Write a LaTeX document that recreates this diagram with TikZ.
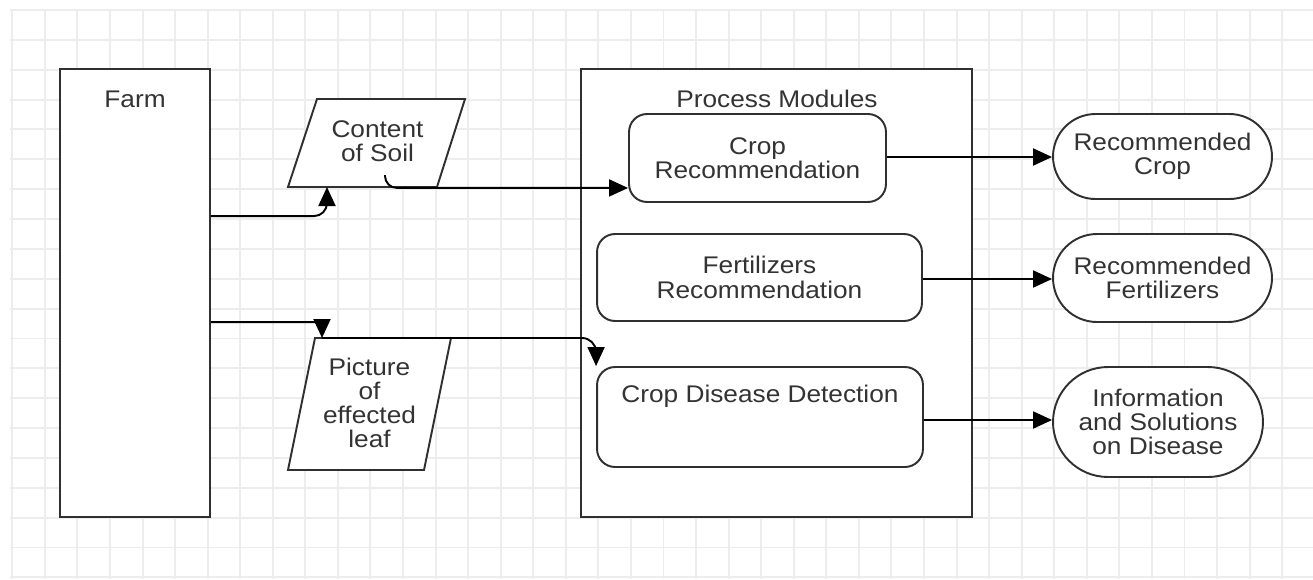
\documentclass[tikz,border=0pt]{standalone}
\usepackage{fontspec}
\setmainfont{Liberation Sans}[FakeStretch=1.09]
\usetikzlibrary{arrows.meta,calc}
\definecolor{gridc}{HTML}{EDEDED}
\definecolor{linec}{HTML}{303030}
\definecolor{textc}{HTML}{333333}
\newcommand{\dfont}{\fontsize{13.7pt}{13.8pt}\selectfont}
\begin{document}
\begin{tikzpicture}[x=0.02cm,y=-0.02cm,
  gridline/.style={draw=gridc, line width=1.1pt},
  box/.style={draw=linec, line width=1.1pt, fill=white, inner sep=0pt},
  lbl/.style={text=textc, align=center, inner sep=0pt, font=\dfont},
  rbox/.style={box, lbl, rounded corners=0.36cm},
  term/.style={box, lbl},
  para/.style={draw=linec, line width=1.1pt, fill=white},
  arr/.style={draw=black, line width=1.1pt, -{Triangle[length=0.38cm,width=0.34cm]}},
]
\useasboundingbox (0,0) rectangle (1313,579);
% grid
\foreach \k in {0,...,39} \draw[gridline] ({12.3+32.56*\k},10) -- ({12.3+32.56*\k},579);
\foreach \k in {0,...,19} \draw[gridline] (10,{10+29.86*\k}) -- (1313,{10+29.86*\k});

% containers
\node[box, minimum width=3cm, minimum height=8.96cm] (farm) at (135,293) {};
\node[lbl] (farmt) at (135,99) {Farm};
\node[box, minimum width=7.82cm, minimum height=8.96cm] (proc) at (776.5,293) {};
\node[lbl] (proct) at (777,98.5) {Process Modules};

% modules
\node[rbox, minimum width=5.14cm, minimum height=1.76cm] (crop) at (757.5,158) {Crop\\Recommendation};
\node[rbox, minimum width=6.5cm, minimum height=1.74cm] (fert) at (759.5,277.5) {Fertilizers\\Recommendation};
\node[rbox, minimum width=6.52cm, minimum height=2.0cm] (dis) at (760,417) {};
\node[lbl] (dist) at (760,396.5) {Crop Disease Detection};

% outputs
\node[term, rounded corners=0.85cm, minimum width=4.38cm, minimum height=1.7cm] (rcrop) at (1162.5,156.5) {Recommended\\Crop};
\node[term, rounded corners=0.88cm, minimum width=4.38cm, minimum height=1.76cm] (rfert) at (1162.5,278) {Recommended\\Fertilizers};
\node[term, rounded corners=1.1cm, minimum width=4.2cm, minimum height=2.2cm] (info) at (1158,422) {Information\\and Solutions\\on Disease};

% inputs (parallelograms)
\draw[para] (317,99) -- (465,99) -- (437,187) -- (288,187) -- cycle;
\node[lbl] (soil) at (377.5,141) {Content\\of Soil};
\coordinate (soilout) at (385,175);
\coordinate (soilin) at (327,187);

\draw[para] (315,338) -- (451,338) -- (424,470) -- (288,470) -- cycle;
\node[lbl] (leaf) at (369.5,403) {Picture\\of\\effected\\leaf};
\coordinate (leafin) at (322,338);

% connectors
\draw[arr, rounded corners=0.26cm] ($(farm.north east)+(0,148)$) -| (soilin);
\draw[arr, rounded corners=0.24cm] (soilout) |- ($(crop.south west)+(0,-15)$);
\draw[arr, rounded corners=0.16cm] ($(farm.north east)+(0,254)$) -| (leafin);
\draw[arr, rounded corners=0.28cm] (leafin) -| (dis.north west);
\draw[arr] ($(crop.east)+(0,-1)$) -- ($(crop.east -| rcrop.west)+(0,-1)$);
\draw[arr] ($(fert.east)+(0,1.5)$) -- ($(fert.east -| rfert.west)+(0,1.5)$);
\draw[arr] ($(dis.east)+(0,3)$) -- ($(dis.east -| info.west)+(0,3)$);
\end{tikzpicture}
\end{document}
